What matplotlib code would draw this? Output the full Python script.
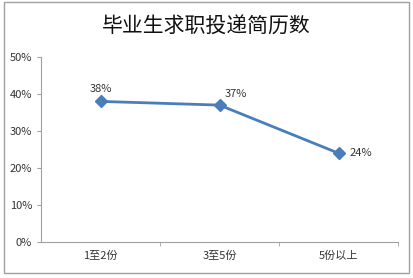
import matplotlib.pyplot as plt
from matplotlib.patches import Rectangle

plt.rcParams['font.family'] = ['Noto Sans CJK SC', 'DejaVu Sans']

categories = ["1至2份", "3至5份", "5份以上"]
values = [38, 37, 24]
title = "毕业生求职投递简历数"

fig = plt.figure(figsize=(4.13, 2.78), dpi=100)
fig.patches.append(Rectangle((4 / 413, 5 / 278), 405 / 413, 271 / 278,
                             transform=fig.transFigure, fill=False,
                             edgecolor="#a0a0a0", linewidth=1))

ax = fig.add_axes([41 / 413, 36 / 278, 357 / 413, 185 / 278])
x = list(range(len(categories)))
ax.plot(x, values, color="#4a7ebb", linewidth=2, marker="D", markersize=6,
        markerfacecolor="#4a7ebb", markeredgecolor="#4a7ebb")

ax.set_xlim(-0.5, len(categories) - 0.5)
ax.set_ylim(0, 50)
ax.set_yticks(range(0, 51, 10))
ax.set_yticklabels([f"{v}%" for v in range(0, 51, 10)])
ax.set_xticks(x)
ax.set_xticklabels(categories)
ax.set_xticks([i + 0.5 for i in x], minor=True)
ax.tick_params(axis="x", which="major", length=0, labelsize=8, pad=6, colors="#333333")
ax.tick_params(axis="x", which="minor", length=3, color="#a0a0a0")
ax.tick_params(axis="y", length=3, color="#a0a0a0", labelsize=8, labelcolor="#333333")

for s in ["top", "right"]:
    ax.spines[s].set_visible(False)
for s in ["left", "bottom"]:
    ax.spines[s].set_color("#a0a0a0")
    ax.spines[s].set_linewidth(0.8)

offsets = [(0, 9), (12, 8), (16, 0)]
for xi, v, off in zip(x, values, offsets):
    ax.annotate(f"{v}%", (xi, v), xytext=off, textcoords="offset points",
                ha="center", va="center", fontsize=8, color="#333333")

fig.text(0.5, 1 - 27 / 278, title, ha="center", va="center", fontsize=15, color="#111111")

fig.savefig("out.png", dpi=100)
